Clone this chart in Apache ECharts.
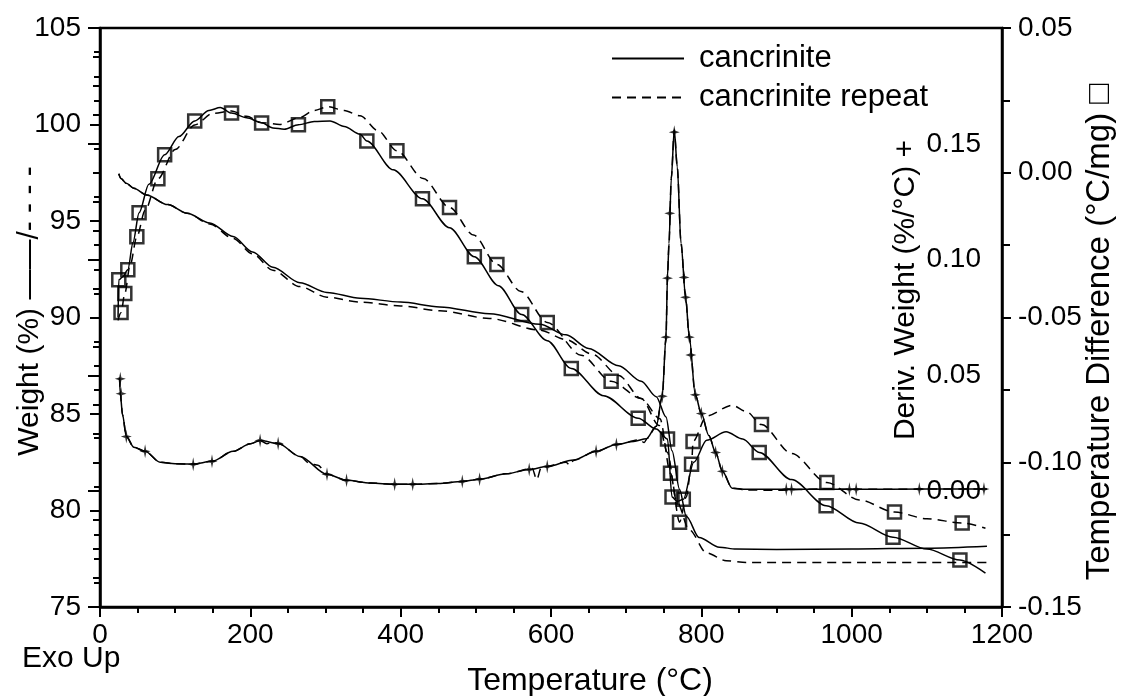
<!DOCTYPE html>
<html><head><meta charset="utf-8">
<script src="https://cdn.jsdelivr.net/npm/echarts@6/dist/echarts.min.js"></script>
<style>html,body{margin:0;padding:0;background:#fff}#c{width:1125px;height:696px}</style>
</head><body><div id="c"></div>
<script>
// ---------- DATA (temperature °C, value) ----------
const weightSolid = [[25,97.45],[28,97.2],[35,96.95],[45,96.7],[62,96.35],[90,95.85],[116,95.4],[146,94.9],[177,94.2],[203,93.4],[230,92.6],[266,91.8],[302,91.3],[346,91.0],[400,90.8],[452,90.55],[518,90.2],[585,89.65],[620,89.1],[650,88.4],[690,87.5],[720,86.7],[740,85.9],[753,84.85],[761,83.1],[771,81.1],[780,79.7],[797,78.6],[824,78.1],[846,78.0],[900,77.98],[1000,78.0],[1100,78.05],[1180,78.15]];
const weightRepeat = [[25,97.45],[28,97.2],[35,96.95],[45,96.7],[62,96.35],[90,95.85],[116,95.4],[146,94.85],[177,94.1],[203,93.3],[230,92.45],[266,91.6],[302,91.05],[346,90.8],[400,90.6],[452,90.35],[518,89.95],[585,89.35],[620,88.85],[655,88.1],[690,87.0],[720,85.8],[744,84.4],[755,83.0],[767,80.5],[784,79.0],[807,77.8],[833,77.4],[860,77.3],[1000,77.3],[1180,77.3]];

const derivSolid = [[26,0.049],[27,0.042],[30,0.033],[35,0.0236],[45,0.019],[60,0.0172],[80,0.0125],[100,0.0118],[124,0.0117],[149,0.0129],[177,0.0172],[200,0.0205],[213,0.0219],[237,0.0206],[266,0.015],[302,0.0073],[328,0.0047],[360,0.0035],[392,0.003],[416,0.003],[450,0.0033],[482,0.0042],[505,0.0052],[540,0.0075],[571,0.0094],[595,0.0107],[630,0.0135],[660,0.0172],[687,0.0202],[710,0.0215],[727,0.0227],[740,0.028],[748,0.041],[753,0.0665],[755,0.093],[757,0.107],[760,0.135],[764,0.156],[768,0.14],[773,0.107],[779,0.084],[784,0.0665],[792,0.0416],[800,0.0335],[810,0.024],[819,0.0167],[828,0.0086],[841,0.0013],[860,0.0008],[900,0.0008],[1000,0.0008],[1100,0.0009],[1180,0.0009]];
const derivRepeat = [[26,0.049],[27,0.042],[30,0.033],[35,0.0236],[45,0.019],[60,0.0172],[80,0.0125],[100,0.0118],[124,0.0117],[149,0.0129],[177,0.0172],[200,0.0205],[213,0.0219],[222,0.0205],[230,0.0212],[237,0.0206],[266,0.015],[280,0.0118],[290,0.0112],[302,0.0073],[328,0.0047],[360,0.0035],[392,0.003],[416,0.003],[450,0.0033],[482,0.0042],[505,0.0052],[540,0.0075],[575,0.0098],[581,0.005],[587,0.0102],[620,0.0125],[625,0.0112],[630,0.0133],[660,0.0172],[687,0.0202],[718,0.0222],[724,0.021],[728,0.0228],[740,0.028],[748,0.041],[753,0.0665],[755,0.093],[757,0.107],[760,0.135],[764,0.156],[768,0.14],[773,0.107],[779,0.084],[784,0.0665],[792,0.0416],[800,0.0335],[810,0.024],[819,0.0167],[828,0.0086],[841,0.0013],[860,0.0005],[900,0.0004],[960,0.001],[1000,0.0008],[1100,0.0009],[1180,0.0009]];
const derivMarks = [[27,0.0485],[28,0.0421],[35,0.0236],[60,0.0172],[124,0.0116],[149,0.0129],[213,0.0219],[237,0.0206],[302,0.0073],[328,0.0047],[392,0.003],[416,0.003],[482,0.0042],[505,0.0052],[571,0.0094],[595,0.0107],[660,0.0172],[687,0.0202],[748,0.041],[753,0.0665],[755,0.092],[758,0.12],[764,0.155],[777,0.0923],[779,0.0837],[784,0.0665],[786,0.0588],[792,0.0416],[800,0.0335],[819,0.0167],[828,0.0086],[913,0.0008],[920,0.0008],[997,0.0008],[1006,0.0008],[1090,0.0009],[1176,0.0009]];

const dtaSolid = [[24,-0.05],[25,-0.037],[30,-0.036],[37,-0.0335],[44,-0.024],[52,-0.0138],[65,-0.004],[86,0.0062],[105,0.0125],[126,0.0179],[145,0.0215],[160,0.0225],[175,0.0206],[195,0.019],[215,0.0173],[230,0.0155],[245,0.015],[264,0.0166],[285,0.0177],[306,0.0179],[325,0.016],[346,0.0133],[355,0.011],[390,0.001],[429,-0.009],[465,-0.019],[498,-0.029],[530,-0.039],[561,-0.049],[595,-0.058],[627,-0.0676],[670,-0.077],[716,-0.0848],[740,-0.0885],[755,-0.092],[761,-0.112],[768,-0.1135],[776,-0.1128],[790,-0.1],[807,-0.0924],[833,-0.0895],[855,-0.092],[877,-0.0966],[920,-0.106],[966,-0.115],[1010,-0.121],[1055,-0.1259],[1100,-0.13],[1144,-0.1338],[1178,-0.1383]];
const dtaSolidMarks = [[25,-0.037],[37,-0.0335],[52,-0.0138],[86,0.0062],[126,0.0179],[175,0.0206],[264,0.0166],[355,0.011],[429,-0.009],[498,-0.029],[561,-0.049],[627,-0.0676],[716,-0.0848],[755,-0.092],[761,-0.112],[776,-0.1128],[877,-0.0966],[966,-0.115],[1055,-0.1259],[1144,-0.1338]];
const dtaRepeat = [[24,-0.051],[28,-0.0483],[33,-0.0417],[40,-0.032],[49,-0.0221],[60,-0.013],[77,-0.0021],[100,0.008],[126,0.0165],[150,0.0205],[175,0.0213],[195,0.0195],[215,0.0173],[239,0.0167],[265,0.019],[285,0.0215],[303,0.0228],[325,0.0215],[346,0.0197],[370,0.0145],[395,0.0076],[430,-0.002],[465,-0.012],[497,-0.0215],[528,-0.0317],[560,-0.041],[595,-0.0517],[640,-0.063],[680,-0.072],[720,-0.078],[745,-0.085],[759,-0.1038],[771,-0.1207],[780,-0.112],[787,-0.1007],[789,-0.0928],[807,-0.084],[841,-0.0803],[860,-0.0825],[880,-0.087],[920,-0.097],[967,-0.107],[1010,-0.113],[1057,-0.1172],[1100,-0.1195],[1147,-0.121],[1178,-0.1228]];
const dtaRepeatMarks = [[28,-0.0483],[33,-0.0417],[49,-0.0221],[77,-0.0021],[215,0.0172],[303,0.0228],[395,0.0076],[465,-0.012],[528,-0.0317],[595,-0.0517],[680,-0.072],[759,-0.1038],[771,-0.1207],[787,-0.1007],[789,-0.0928],[880,-0.087],[967,-0.107],[1057,-0.1172],[1147,-0.121]];

const legendNames = ['cancrinite','cancrinite repeat'];

// ---------- CHART ----------
const FONT = 'Liberation Sans, Arial, Helvetica, sans-serif';
const black = '#000';
const chart = echarts.init(document.getElementById('c'), null, {renderer:'canvas'});
const starPath = 'path://M5,0 L6,4 L10,5 L6,6 L5,10 L4,6 L0,5 L4,4 Z';

function lineSeries(name, data, yIdx, dashed, z){
  return {name, type:'line', data, xAxisIndex:0, yAxisIndex:yIdx, symbol:'none', showSymbol:false,
    smooth:0.3, smoothMonotone:'x', z:z||3, silent:true,
    itemStyle:{color:black},
    lineStyle:{color:black, width:1.5, type: dashed ? [9,6] : 'solid'}};
}
const baseAxis = {
  axisLine:{show:true, onZero:false, lineStyle:{color:black, width:2.5}},
  axisTick:{show:true, length:10, lineStyle:{color:black, width:2}},
  minorTick:{show:true, length:6, lineStyle:{color:black, width:2}},
  splitLine:{show:false},
  axisLabel:{color:black, fontFamily:FONT, fontSize:28},
  nameTextStyle:{color:black, fontFamily:FONT, fontSize:30}
};
function vText(text, x, y, size){
  return {type:'text', x, y, rotation:Math.PI/2,
    style:{text, fill:black, font:size + 'px ' + FONT, align:'center', verticalAlign:'middle'}};
}

const option = {
  animation:false,
  backgroundColor:'#fff',
  grid:{left:100, right:123, top:28, bottom:89, containLabel:false, outerBoundsMode:'none',
    show:true, borderColor:black, borderWidth:2.5, backgroundColor:'transparent'},
  legend:{
    data:legendNames, orient:'vertical', left:606, top:38, itemWidth:72, itemHeight:14, itemGap:8,
    itemStyle:{opacity:0},
    textStyle:{color:black, fontFamily:FONT, fontSize:31, padding:[0,0,0,10]},
    selectedMode:false
  },
  xAxis:[Object.assign({}, baseAxis, {
    type:'value', min:0, max:1200, interval:200,
    minorTick:Object.assign({}, baseAxis.minorTick, {splitNumber:4}),
    axisLabel:Object.assign({}, baseAxis.axisLabel, {margin:14, formatter:function(v){return String(v);}}),
    name:'Temperature (°C)', nameLocation:'middle', nameGap:58,
    nameTextStyle:Object.assign({}, baseAxis.nameTextStyle, {fontSize:32, padding:[0,0,0,78]})
  })],
  yAxis:[
    Object.assign({}, baseAxis, {
      type:'value', min:75, max:105, interval:5, position:'left',
      minorTick:Object.assign({}, baseAxis.minorTick, {splitNumber:4}),
      axisLabel:Object.assign({}, baseAxis.axisLabel, {margin:19})
    }),
    Object.assign({}, baseAxis, {
      type:'value', min:-0.05, max:0.2, interval:0.05, position:'right', offset:0,
      axisLine:{show:false},
      axisTick:{show:true, inside:true, length:12, lineStyle:{color:black, width:2}},
      minorTick:{show:true, splitNumber:4, length:7, lineStyle:{color:black, width:2}},
      axisLabel:Object.assign({}, baseAxis.axisLabel, {inside:true, margin:21,
        formatter:function(v){ return (v < -0.001 || v > 0.175) ? '' : v.toFixed(2); }})
    }),
    Object.assign({}, baseAxis, {
      type:'value', min:-0.15, max:0.05, interval:0.05, position:'right', offset:0,
      axisTick:{show:true, length:9, lineStyle:{color:black, width:2}},
      minorTick:{show:true, splitNumber:2, length:8, lineStyle:{color:black, width:2}},
      axisLabel:Object.assign({}, baseAxis.axisLabel, {margin:16,
        formatter:function(v){ return v.toFixed(2); }})
    })
  ],
  graphic:[
    {type:'text', left:22, top:644, style:{text:'Exo Up', fill:black, font:'30px ' + FONT}},
    vText('Weight (%) ——/- - - -', 30, 311, 30),
    vText('Deriv. Weight (%/°C) +', 906, 290, 30),
    vText('Temperature Difference (°C/mg) □', 1100, 332, 33)
  ],
  series:[
    lineSeries('cancrinite', weightSolid, 0, false),
    lineSeries('cancrinite repeat', weightRepeat, 0, true),
    lineSeries('deriv', derivSolid, 1, false),
    lineSeries('deriv repeat', derivRepeat, 1, true),
    lineSeries('dta', dtaSolid, 2, false),
    lineSeries('dta repeat', dtaRepeat, 2, true),
    {name:'deriv marks', type:'scatter', data:derivMarks, yAxisIndex:1, symbol:starPath, symbolSize:[11,14],
      itemStyle:{color:black}, z:5, silent:true},
    {name:'dta marks', type:'scatter', data:dtaSolidMarks, yAxisIndex:2, symbol:'rect', symbolSize:13,
      itemStyle:{color:'transparent', borderColor:black, borderWidth:2.5}, z:5, silent:true},
    {name:'dta repeat marks', type:'scatter', data:dtaRepeatMarks, yAxisIndex:2, symbol:'rect', symbolSize:13,
      itemStyle:{color:'transparent', borderColor:black, borderWidth:2.5}, z:5, silent:true}
  ]
};
chart.setOption(option);
</script>
</body></html>
